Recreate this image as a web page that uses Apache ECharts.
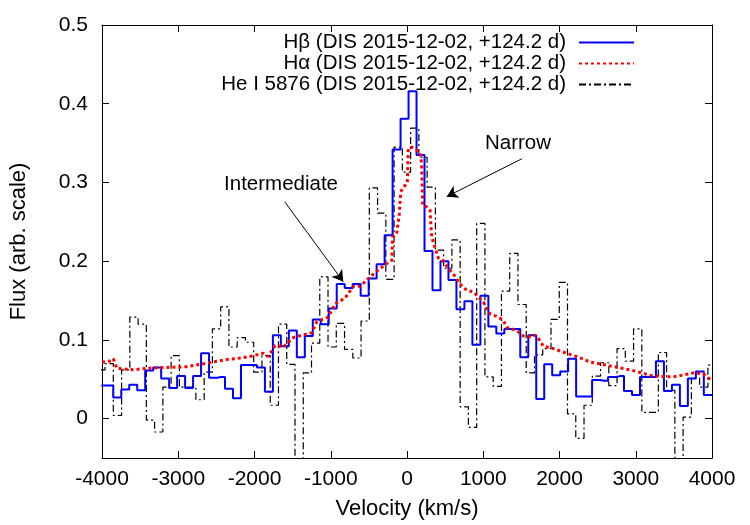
<!DOCTYPE html>
<html>
<head>
<meta charset="utf-8">
<title>Line profiles</title>
<script src="https://cdn.jsdelivr.net/npm/echarts@6/dist/echarts.min.js"></script>
<style>
    html, body { margin: 0; padding: 0; background: #fff; }
    #chart { width: 750px; height: 525px; }
</style>
</head>
<body>
<div id="chart"></div>
<script>
// binned spectra: first bin centre + bin width (km/s), then flux per bin
var hbStart = -4009, hbWidth = 104.66;
var hbFlux = [0.042, 0.042, 0.027, 0.037, 0.043, 0.036, 0.061, 0.065, 0.051, 0.039,
    0.054, 0.039, 0.054, 0.083, 0.052, 0.053, 0.038, 0.026, 0.068, 0.068,
    0.065, 0.034, 0.106, 0.092, 0.112, 0.078, 0.105, 0.126, 0.120, 0.140,
    0.171, 0.166, 0.171, 0.156, 0.178, 0.196, 0.233, 0.342, 0.381, 0.416,
    0.335, 0.213, 0.163, 0.200, 0.176, 0.139, 0.149, 0.094, 0.156, 0.117,
    0.108, 0.114, 0.114, 0.078, 0.106, 0.025, 0.069, 0.055, 0.060, 0.076,
    0.028, 0.028, 0.049, 0.048, 0.053, 0.054, 0.035, 0.030, 0.053, 0.053,
    0.073, 0.035, 0.043, 0.016, 0.051, 0.060, 0.030, 0.030];

var heStart = -4014, heWidth = 108.3;
var heFlux = [0.062, 0.070, 0.004, 0.062, 0.129, 0.120, -0.002, -0.017, 0.040, 0.080,
    0.040, 0.040, 0.024, 0.059, 0.114, 0.142, 0.091, 0.103, 0.097, 0.059,
    0.080, 0.017, 0.120, 0.069, -0.100, 0.058, 0.096, 0.180, 0.091, 0.121,
    0.088, 0.077, 0.124, 0.293, 0.261, 0.177, 0.345, 0.313, 0.369, 0.332,
    0.294, 0.214, 0.191, 0.227, 0.015, -0.011, 0.248, 0.053, 0.041, 0.162,
    0.210, 0.145, 0.058, 0.081, 0.089, 0.126, 0.173, 0.006, -0.025, 0.017,
    0.054, 0.071, 0.042, 0.089, 0.073, 0.114, 0.008, 0.008, 0.084, 0.036,
    -0.100, 0.002, 0.052, 0.040, 0.068];

// H-alpha (finer sampling)
var haVel = [-4000, -3900, -3852, -3807, -3700, -3589, -3414, -3151, -2889, -2715,
    -2540, -2365, -2190, -2059, -1885, -1819, -1731, -1622, -1491, -1338,
    -1250, -1184, -1032, -944, -813, -704, -616, -485, -376, -266,
    -201, -187, -135, -100, -82, -48, 4, 17, 62, 127,
    180, 193, 206, 259, 302, 324, 367, 411, 476, 542,
    607, 695, 783, 870, 935, 1001, 1045, 1089, 1176, 1263,
    1307, 1438, 1526, 1613, 1679, 1722, 1788, 1919, 2094, 2250,
    2400, 2662, 2968, 3230, 3493, 3650, 3755, 3886, 4000];
var haFlux = [0.072, 0.073, 0.076, 0.064, 0.063, 0.062, 0.064, 0.065, 0.066, 0.069,
    0.072, 0.075, 0.077, 0.079, 0.083, 0.079, 0.093, 0.091, 0.103, 0.107,
    0.109, 0.123, 0.129, 0.146, 0.153, 0.168, 0.168, 0.180, 0.189, 0.197,
    0.201, 0.231, 0.235, 0.261, 0.288, 0.294, 0.299, 0.343, 0.345, 0.341,
    0.335, 0.320, 0.271, 0.269, 0.265, 0.231, 0.217, 0.204, 0.200, 0.191,
    0.184, 0.171, 0.163, 0.161, 0.155, 0.148, 0.140, 0.133, 0.130, 0.125,
    0.116, 0.112, 0.105, 0.104, 0.106, 0.102, 0.092, 0.089, 0.083, 0.078,
    0.072, 0.067, 0.061, 0.054, 0.053, 0.056, 0.058, 0.057, 0.048];

var yTicks = [0, 0.1, 0.2, 0.3, 0.4, 0.5];
var seriesNames = ['H\u03b2 (DIS 2015-12-02, +124.2 d)',
    'H\u03b1 (DIS 2015-12-02, +124.2 d)',
    'He I 5876 (DIS 2015-12-02, +124.2 d)'];

// annotations: [label, label position, arrow start, arrow end]
var notes = [
    ['Intermediate', [-1652, 0.298], [-1600, 0.275], [-836, 0.174]],
    ['Narrow', [1456, 0.350], [1505, 0.330], [521, 0.282]]
];

function binned(start, width, flux) {
    var out = [];
    for (var i = 0; i < flux.length; i++) {
        out.push([start + width * i, flux[i]]);
    }
    return out;
}

var haData = [];
for (var i = 0; i < haVel.length; i++) {
    haData.push([haVel[i], haFlux[i]]);
}

var fontName = 'Liberation Sans';
var fsTick = 21;   // tick labels
var fsName = 22;   // axis titles
var fsText = 20.5; // legend + notes

var myChart = echarts.init(document.getElementById('chart'));

var axisCommon = {
    type: 'value',
    axisLine: {show: true, onZero: false, lineStyle: {color: '#000', width: 1}},
    splitLine: {show: false}
};

var option = {
    animation: false,
    textStyle: {fontFamily: fontName, color: '#000'},
    grid: {left: 102, right: 38, top: 25, bottom: 67},
    legend: {
        orient: 'vertical',
        align: 'right',
        right: 110,
        top: 27,
        itemWidth: 55,
        itemHeight: 12,
        itemGap: 0,
        data: seriesNames,
        itemStyle: {opacity: 0},
        textStyle: {fontSize: fsText, lineHeight: 21, color: '#000', padding: [0, 8, 0, 0]}
    },
    xAxis: [
        Object.assign({}, axisCommon, {
            min: -4000, max: 4000, interval: 1000, position: 'bottom',
            axisTick: {show: true, inside: true, length: 7, lineStyle: {color: '#000'}},
            axisLabel: {color: '#000', fontSize: fsTick, margin: 11,
                formatter: function (v) { return String(v); }},
            name: 'Velocity (km/s)', nameLocation: 'middle', nameGap: 40,
            nameTextStyle: {fontSize: fsName, color: '#000'}
        }),
        Object.assign({}, axisCommon, {
            min: -4000, max: 4000, interval: 1000, position: 'top',
            axisTick: {show: true, inside: true, length: 7, lineStyle: {color: '#000'}},
            axisLabel: {show: false}
        })
    ],
    yAxis: [
        Object.assign({}, axisCommon, {
            min: -0.05, max: 0.5, position: 'left',
            axisTick: {show: true, inside: true, length: 7, lineStyle: {color: '#000'}, customValues: yTicks},
            axisLabel: {color: '#000', fontSize: fsTick, margin: 14, customValues: yTicks,
                formatter: function (v) { return String(Math.round(v * 10) / 10); }},
            name: 'Flux (arb. scale)', nameLocation: 'middle', nameGap: 72,
            nameTextStyle: {fontSize: fsName, color: '#000'}
        }),
        Object.assign({}, axisCommon, {
            min: -0.05, max: 0.5, position: 'right',
            axisTick: {show: true, inside: true, length: 7, lineStyle: {color: '#000'}, customValues: yTicks},
            axisLabel: {show: false}
        })
    ],
    series: [
        {
            name: seriesNames[0],
            type: 'line',
            step: 'middle',
            symbol: 'none',
            z: 3,
            data: binned(hbStart, hbWidth, hbFlux),
            lineStyle: {color: '#0000ff', width: 2},
            itemStyle: {color: '#0000ff'}
        },
        {
            name: seriesNames[1],
            type: 'line',
            symbol: 'none',
            z: 4,
            data: haData,
            lineStyle: {color: '#ff0000', width: 3, type: [3, 3]},
            itemStyle: {color: '#ff0000'}
        },
        {
            name: seriesNames[2],
            type: 'line',
            step: 'middle',
            symbol: 'none',
            z: 2,
            data: binned(heStart, heWidth, heFlux),
            lineStyle: {color: '#000', width: 1.2, type: [7, 3, 2, 3]},
            itemStyle: {color: '#000'},
            markLine: {
                silent: true,
                symbol: ['none', 'arrow'],
                symbolSize: [10, 11],
                label: {show: false},
                lineStyle: {color: '#000', width: 1, type: 'solid'},
                data: notes.map(function (n) {
                    return [{coord: n[2]}, {coord: n[3]}];
                })
            },
            markPoint: {
                silent: true,
                symbol: 'circle',
                symbolSize: 0,
                label: {show: true, position: 'inside', color: '#000', fontSize: fsText, fontFamily: fontName,
                    formatter: function (p) { return p.name; }},
                data: notes.map(function (n) {
                    return {name: n[0], coord: n[1]};
                })
            }
        }
    ]
};

myChart.setOption(option);
</script>
</body>
</html>
